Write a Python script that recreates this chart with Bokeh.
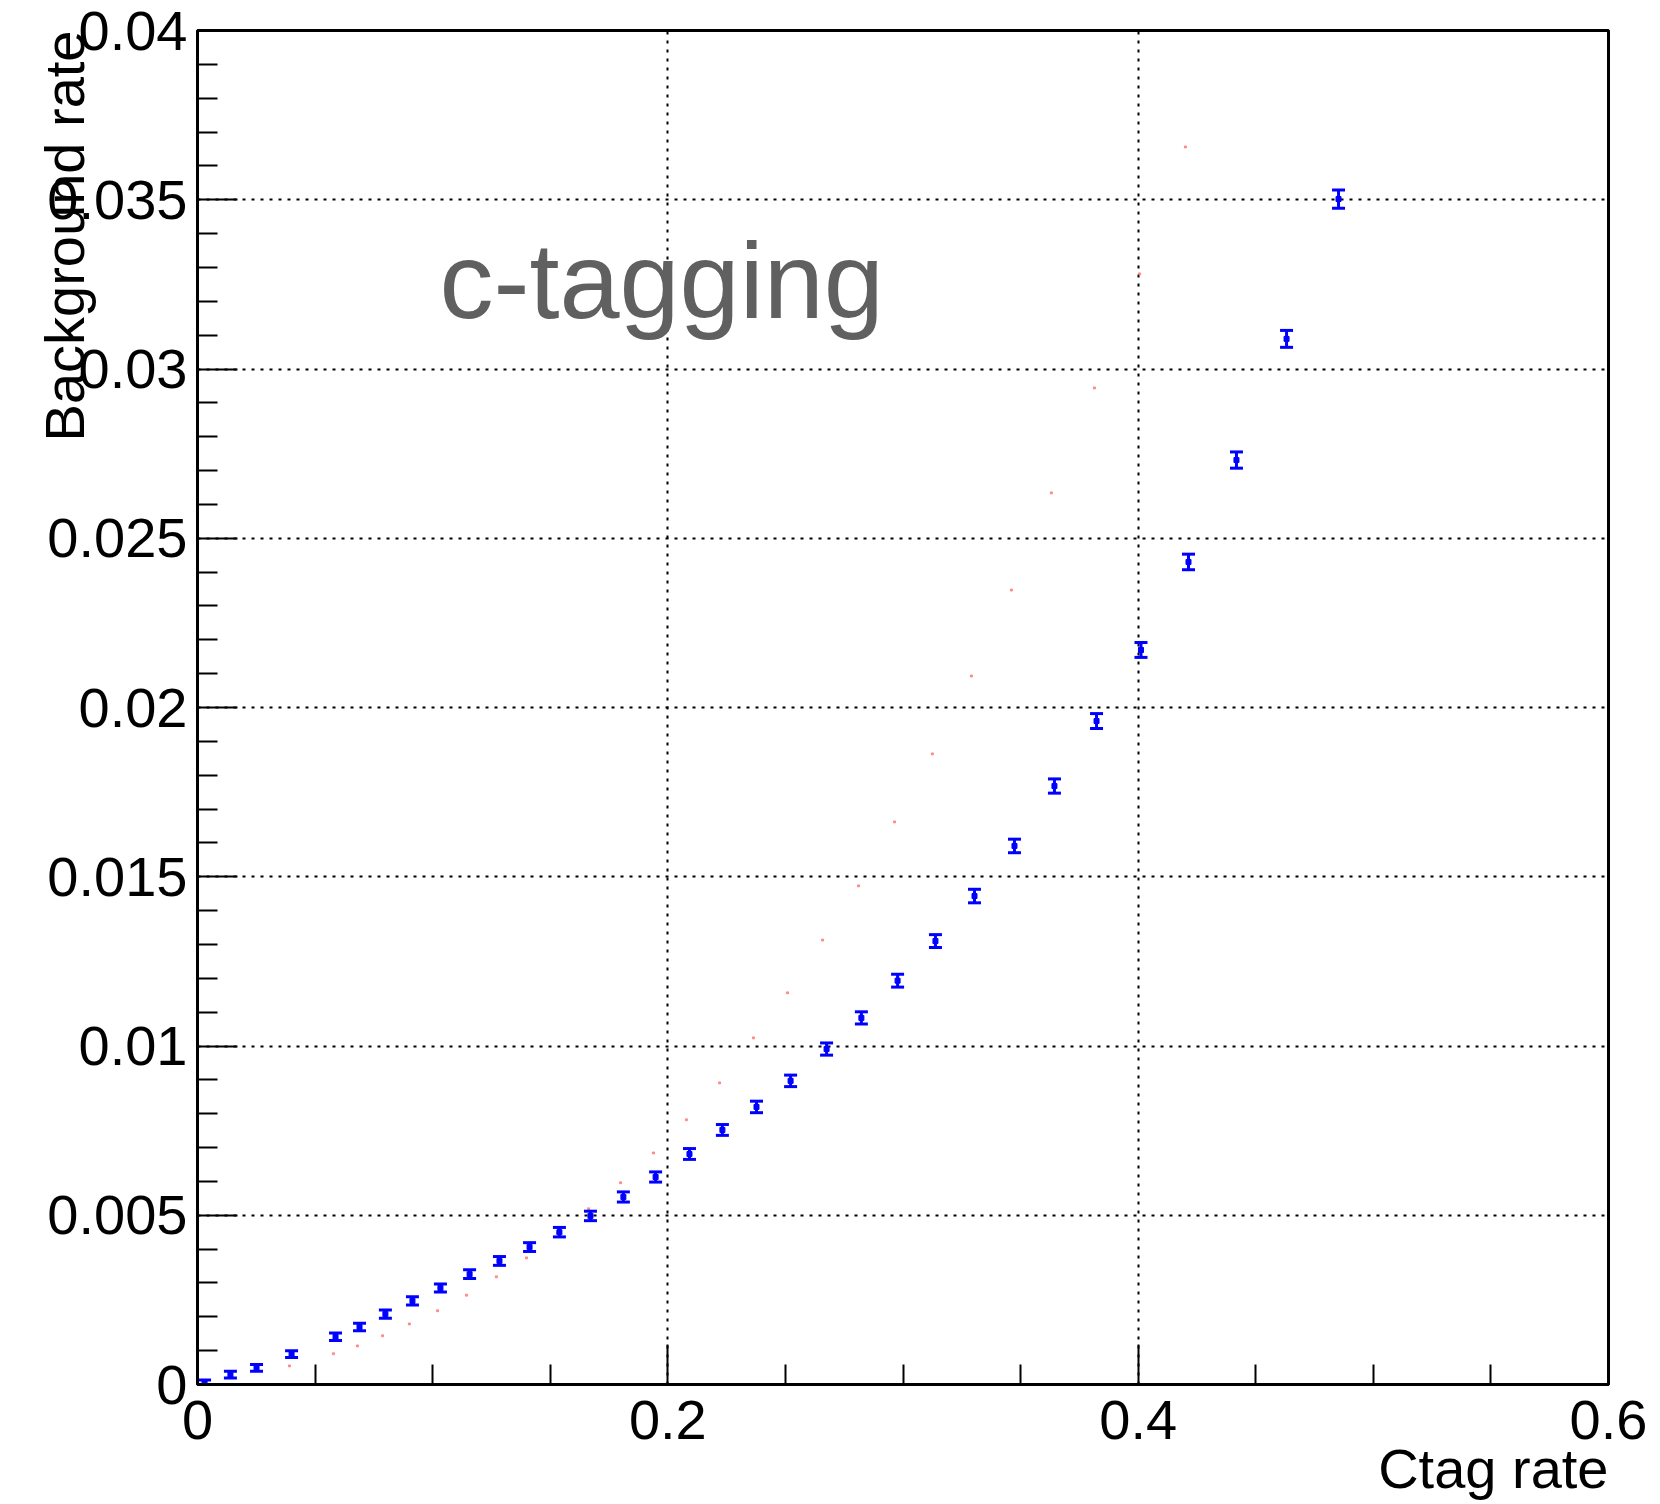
import math
from bokeh.plotting import figure
from bokeh.models import Range1d, FixedTicker, Label, Title
from bokeh.embed import file_html
from bokeh.resources import INLINE

# ---- data ----
ctag_rate = [0.003, 0.014, 0.0251, 0.040, 0.0587, 0.0689, 0.0799, 0.0914, 0.1033, 0.1157,
             0.1284, 0.1412, 0.1539, 0.1671, 0.1811, 0.1948, 0.2092, 0.2232, 0.2377, 0.2522,
             0.2675, 0.2823, 0.2977, 0.3138, 0.3304, 0.3474, 0.3644, 0.3823, 0.4012, 0.4214,
             0.4418, 0.4631, 0.4852]
bkg_rate = [0.00005, 0.00029, 0.00049, 0.0009, 0.00141, 0.0017, 0.00208, 0.00247, 0.00285, 0.00326,
            0.00365, 0.00406, 0.0045, 0.00498, 0.00554, 0.00613, 0.00681, 0.00752, 0.0082, 0.00897,
            0.00991, 0.01083, 0.01193, 0.0131, 0.01443, 0.01591, 0.01768, 0.0196, 0.0217, 0.0243,
            0.02731, 0.03089, 0.03502]
bkg_err = [0.00008, 0.0001, 0.0001, 0.0001, 0.00011, 0.00011, 0.00012, 0.00012, 0.00012, 0.00013,
           0.00013, 0.00013, 0.00014, 0.00014, 0.00015, 0.00015, 0.00016, 0.00016, 0.00017, 0.00017,
           0.00018, 0.00018, 0.00019, 0.00019, 0.0002, 0.0002, 0.00021, 0.00022, 0.00022, 0.00023,
           0.00024, 0.00025, 0.00027]

red_x = [0.0391, 0.0578, 0.0680, 0.0787, 0.0901, 0.1021, 0.1144, 0.1271, 0.1399, 0.1531,
         0.1663, 0.1799, 0.1939, 0.2079, 0.2220, 0.2364, 0.2509, 0.2658, 0.2811, 0.2964,
         0.3125, 0.3291, 0.3461, 0.3631, 0.3814, 0.4006, 0.4201]
red_y = [0.00055, 0.00091, 0.00114, 0.00144, 0.00179, 0.00218, 0.00264, 0.00318, 0.00374, 0.00448,
         0.00519, 0.00596, 0.00684, 0.00782, 0.00891, 0.01024, 0.01157, 0.01313, 0.01473, 0.01662,
         0.01863, 0.02093, 0.02347, 0.02634, 0.02944, 0.03281, 0.03656]

x_ticks = [0.0, 0.2, 0.4, 0.6]
x_tick_labels = ["0", "0.2", "0.4", "0.6"]
x_minor = [0.05, 0.1, 0.15, 0.25, 0.3, 0.35, 0.45, 0.5, 0.55]
y_ticks = [0.0, 0.005, 0.01, 0.015, 0.02, 0.025, 0.03, 0.035, 0.04]
y_tick_labels = ["0", "0.005", "0.01", "0.015", "0.02", "0.025", "0.03", "0.035", "0.04"]
y_minor = [i / 1000 for i in range(0, 41) if i % 5 != 0]

x_title = "Ctag rate"
y_title = "Background rate"
panel_text = "c-tagging"

FONT = "Liberation Sans"

p = figure(width=1660, height=1504, output_backend="svg", toolbar_location=None,
           x_range=Range1d(0, 0.6), y_range=Range1d(0, 0.04),
           min_border_left=197, min_border_right=52, min_border_top=30, min_border_bottom=120,
           background_fill_color="white", border_fill_color="white")
p.outline_line_color = "black"
p.outline_line_width = 3

# axes
for ax, ticks, labels, minor in ((p.xaxis[0], x_ticks, x_tick_labels, x_minor),
                                  (p.yaxis[0], y_ticks, y_tick_labels, y_minor)):
    ax.ticker = FixedTicker(ticks=ticks, minor_ticks=minor)
    ax.major_label_overrides = {t: l for t, l in zip(ticks, labels)}
    ax.axis_line_width = 3
    ax.axis_line_color = "black"
    ax.major_tick_in = 40
    ax.major_tick_out = 0
    ax.minor_tick_in = 20
    ax.minor_tick_out = 0
    ax.major_tick_line_width = 2
    ax.minor_tick_line_width = 2
    ax.major_tick_line_color = "black"
    ax.minor_tick_line_color = "black"
    ax.major_label_text_font = FONT
    ax.major_label_text_font_size = "56px"
    ax.major_label_text_color = "black"
p.xaxis.major_label_standoff = 16
p.yaxis.major_label_standoff = 10

for g in (p.xgrid[0], p.ygrid[0]):
    g.grid_line_color = "black"
    g.grid_line_dash = "3 6"
    g.grid_line_width = 2

# red series (tiny dots)
p.scatter(red_x, red_y, marker="square", size=2, color="#ff6060", alpha=0.6)

# blue points with vertical error bars
lo = [y - e for y, e in zip(bkg_rate, bkg_err)]
hi = [y + e for y, e in zip(bkg_rate, bkg_err)]
p.segment(x0=ctag_rate, y0=lo, x1=ctag_rate, y1=hi, line_color="#0000ff", line_width=3)
p.scatter(ctag_rate, lo, marker="dash", size=13, line_color="#0000ff", line_width=3)
p.scatter(ctag_rate, hi, marker="dash", size=13, line_color="#0000ff", line_width=3)
p.scatter(ctag_rate, bkg_rate, marker="square", size=5, color="#0000ff")

# texts
p.add_layout(Label(x=0.1029, y=0.0326, text=panel_text, text_font=FONT,
                   text_font_size="108px", text_color="#606060",
                   text_align="left", text_baseline="alphabetic"))

xt = Title(text=x_title, align="right", text_font=FONT, text_font_size="56px",
           text_font_style="normal", text_color="black", standoff=-13)
p.add_layout(xt, "below")
yt = Title(text=y_title, align="right", text_font=FONT, text_font_size="56px",
           text_font_style="normal", text_color="black", standoff=-102)
p.add_layout(yt, "left")

open("out.html", "w").write(file_html(p, INLINE))
